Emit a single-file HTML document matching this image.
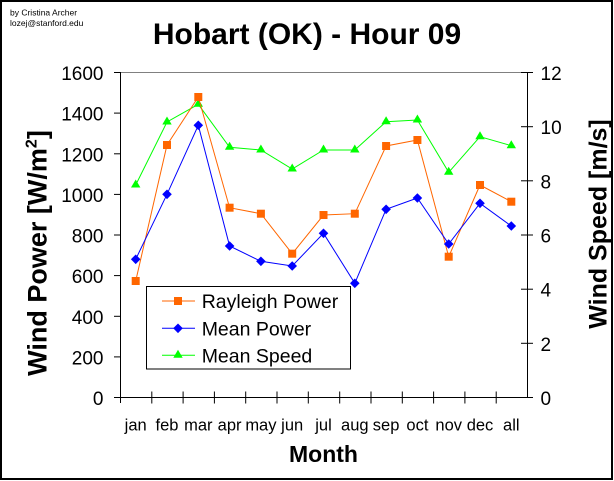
<!DOCTYPE html>
<html>
<head>
<meta charset="utf-8">
<style>
  html, body { margin: 0; padding: 0; background: #fff; }
  body { width: 614px; height: 481px; overflow: hidden; }
  svg { display: block; }
  text { font-family: "Liberation Sans", Arial, sans-serif; fill: #000; }
</style>
</head>
<body>
<svg width="614" height="481" viewBox="0 0 614 481" xmlns="http://www.w3.org/2000/svg">
  <rect x="0" y="0" width="614" height="481" fill="#fff"/>
  <!-- outer border -->
  <rect x="1" y="1" width="611" height="478" fill="none" stroke="#000" stroke-width="2"/>

  <!-- credits -->
  <text x="10" y="15.5" font-size="8.5">by Cristina Archer</text>
  <text x="10" y="26" font-size="8.5">lozej@stanford.edu</text>

  <!-- title -->
  <text x="307" y="44" font-size="30" font-weight="bold" text-anchor="middle">Hobart (OK) - Hour 09</text>

  <!-- plot top border (gray) -->
  <line x1="120" y1="72.5" x2="527" y2="72.5" stroke="#808080" stroke-width="1"/>

  <!-- left axis -->
  <line x1="120.5" y1="72" x2="120.5" y2="403" stroke="#000" stroke-width="1"/>
  <g stroke="#000" stroke-width="1">
    <line x1="114" y1="72.5" x2="120" y2="72.5"/>
    <line x1="114" y1="113.1" x2="120" y2="113.1"/>
    <line x1="114" y1="153.8" x2="120" y2="153.8"/>
    <line x1="114" y1="194.4" x2="120" y2="194.4"/>
    <line x1="114" y1="235" x2="120" y2="235"/>
    <line x1="114" y1="275.6" x2="120" y2="275.6"/>
    <line x1="114" y1="316.3" x2="120" y2="316.3"/>
    <line x1="114" y1="356.9" x2="120" y2="356.9"/>
    <line x1="114" y1="397.5" x2="120" y2="397.5"/>
  </g>
  <g font-size="19" text-anchor="end">
    <text x="103.5" y="80">1600</text>
    <text x="103.5" y="120.6">1400</text>
    <text x="103.5" y="161.3">1200</text>
    <text x="103.5" y="201.9">1000</text>
    <text x="103.5" y="242.5">800</text>
    <text x="103.5" y="283.1">600</text>
    <text x="103.5" y="323.8">400</text>
    <text x="103.5" y="364.4">200</text>
    <text x="103.5" y="405">0</text>
  </g>

  <!-- bottom axis -->
  <line x1="120" y1="397.5" x2="527" y2="397.5" stroke="#000" stroke-width="1"/>
  <g stroke="#000" stroke-width="1">
    <line x1="151.8" y1="391.5" x2="151.8" y2="403.5"/>
    <line x1="183.1" y1="391.5" x2="183.1" y2="403.5"/>
    <line x1="214.4" y1="391.5" x2="214.4" y2="403.5"/>
    <line x1="245.7" y1="391.5" x2="245.7" y2="403.5"/>
    <line x1="277" y1="391.5" x2="277" y2="403.5"/>
    <line x1="308.3" y1="391.5" x2="308.3" y2="403.5"/>
    <line x1="339.7" y1="391.5" x2="339.7" y2="403.5"/>
    <line x1="371" y1="391.5" x2="371" y2="403.5"/>
    <line x1="402.3" y1="391.5" x2="402.3" y2="403.5"/>
    <line x1="433.6" y1="391.5" x2="433.6" y2="403.5"/>
    <line x1="464.9" y1="391.5" x2="464.9" y2="403.5"/>
    <line x1="496.2" y1="391.5" x2="496.2" y2="403.5"/>
  </g>
  <g font-size="16.5" text-anchor="middle">
    <text x="135.7" y="430.5">jan</text>
    <text x="167" y="430.5">feb</text>
    <text x="198.3" y="430.5">mar</text>
    <text x="229.6" y="430.5">apr</text>
    <text x="260.9" y="430.5">may</text>
    <text x="292.2" y="430.5">jun</text>
    <text x="323.5" y="430.5">jul</text>
    <text x="354.8" y="430.5">aug</text>
    <text x="386.1" y="430.5">sep</text>
    <text x="417.4" y="430.5">oct</text>
    <text x="448.7" y="430.5">nov</text>
    <text x="480" y="430.5">dec</text>
    <text x="511.3" y="430.5">all</text>
  </g>
  <text x="323.5" y="462" font-size="23" font-weight="bold" text-anchor="middle">Month</text>

  <!-- right axis -->
  <line x1="527.5" y1="72" x2="527.5" y2="398" stroke="#000" stroke-width="1"/>
  <g stroke="#000" stroke-width="1">
    <line x1="521" y1="72.5" x2="533" y2="72.5"/>
    <line x1="521" y1="126.7" x2="533" y2="126.7"/>
    <line x1="521" y1="180.8" x2="533" y2="180.8"/>
    <line x1="521" y1="235" x2="533" y2="235"/>
    <line x1="521" y1="289.2" x2="533" y2="289.2"/>
    <line x1="521" y1="343.3" x2="533" y2="343.3"/>
    <line x1="521" y1="397.5" x2="533" y2="397.5"/>
  </g>
  <g font-size="19" text-anchor="start">
    <text x="540.5" y="80">12</text>
    <text x="540.5" y="134.2">10</text>
    <text x="540.5" y="188.3">8</text>
    <text x="540.5" y="242.5">6</text>
    <text x="540.5" y="296.7">4</text>
    <text x="540.5" y="350.8">2</text>
    <text x="540.5" y="405">0</text>
  </g>

  <!-- axis titles -->
  <text transform="translate(46.5,253) rotate(-90)" font-size="27" font-weight="bold" text-anchor="middle">Wind Power [W/m<tspan font-size="16" dy="-10">2</tspan><tspan dy="10">]</tspan></text>
  <text transform="translate(606.5,224) rotate(-90)" font-size="25" font-weight="bold" text-anchor="middle">Wind Speed [m/s]</text>

  <!-- Mean Speed (green) -->
  <polyline fill="none" stroke="#00FF00" stroke-width="1"
    points="135.7,185 167,122 198.3,104.3 229.6,147.3 260.9,150 292.2,169 323.5,150 354.8,150 386.1,121.7 417.4,120 448.7,172.3 480,136.7 511.3,145.7"/>
  <g fill="#00FF00">
    <polygon points="135.7,179.5 131,187.5 140.4,187.5"/>
    <polygon points="167,116.5 162.3,124.5 171.7,124.5"/>
    <polygon points="198.3,98.8 193.6,106.8 203,106.8"/>
    <polygon points="229.6,141.8 224.9,149.8 234.3,149.8"/>
    <polygon points="260.9,144.5 256.2,152.5 265.6,152.5"/>
    <polygon points="292.2,163.5 287.5,171.5 296.9,171.5"/>
    <polygon points="323.5,144.5 318.8,152.5 328.2,152.5"/>
    <polygon points="354.8,144.5 350.1,152.5 359.5,152.5"/>
    <polygon points="386.1,116.2 381.4,124.2 390.8,124.2"/>
    <polygon points="417.4,114.5 412.7,122.5 422.1,122.5"/>
    <polygon points="448.7,166.8 444,174.8 453.4,174.8"/>
    <polygon points="480,131.2 475.3,139.2 484.7,139.2"/>
    <polygon points="511.3,140.2 506.6,148.2 516,148.2"/>
  </g>

  <!-- Rayleigh Power (orange) -->
  <polyline fill="none" stroke="#FF6600" stroke-width="1"
    points="135.7,281 167,145 198.3,97 229.6,207.7 260.9,213.7 292.2,253.7 323.5,215 354.8,213.7 386.1,146 417.4,140 448.7,256.7 480,185 511.3,201.7"/>
  <g fill="#FF6600">
    <rect x="131.7" y="277" width="8" height="8"/>
    <rect x="163" y="141" width="8" height="8"/>
    <rect x="194.3" y="93" width="8" height="8"/>
    <rect x="225.6" y="203.7" width="8" height="8"/>
    <rect x="256.9" y="209.7" width="8" height="8"/>
    <rect x="288.2" y="249.7" width="8" height="8"/>
    <rect x="319.5" y="211" width="8" height="8"/>
    <rect x="350.8" y="209.7" width="8" height="8"/>
    <rect x="382.1" y="142" width="8" height="8"/>
    <rect x="413.4" y="136" width="8" height="8"/>
    <rect x="444.7" y="252.7" width="8" height="8"/>
    <rect x="476" y="181" width="8" height="8"/>
    <rect x="507.3" y="197.7" width="8" height="8"/>
  </g>

  <!-- Mean Power (blue) -->
  <polyline fill="none" stroke="#0000FF" stroke-width="1"
    points="135.7,259.3 167,194.3 198.3,125.3 229.6,246 260.9,261.3 292.2,266 323.5,233.3 354.8,283.3 386.1,209.3 417.4,198 448.7,244 480,203.3 511.3,226"/>
  <g fill="#0000FF">
    <polygon points="135.7,254.5 140.5,259.3 135.7,264.1 130.9,259.3"/>
    <polygon points="167,189.5 171.8,194.3 167,199.1 162.2,194.3"/>
    <polygon points="198.3,120.5 203.1,125.3 198.3,130.1 193.5,125.3"/>
    <polygon points="229.6,241.2 234.4,246 229.6,250.8 224.8,246"/>
    <polygon points="260.9,256.5 265.7,261.3 260.9,266.1 256.1,261.3"/>
    <polygon points="292.2,261.2 297,266 292.2,270.8 287.4,266"/>
    <polygon points="323.5,228.5 328.3,233.3 323.5,238.1 318.7,233.3"/>
    <polygon points="354.8,278.5 359.6,283.3 354.8,288.1 350,283.3"/>
    <polygon points="386.1,204.5 390.9,209.3 386.1,214.1 381.3,209.3"/>
    <polygon points="417.4,193.2 422.2,198 417.4,202.8 412.6,198"/>
    <polygon points="448.7,239.2 453.5,244 448.7,248.8 443.9,244"/>
    <polygon points="480,198.5 484.8,203.3 480,208.1 475.2,203.3"/>
    <polygon points="511.3,221.2 516.1,226 511.3,230.8 506.5,226"/>
  </g>

  <!-- legend -->
  <rect x="146.5" y="286.5" width="204" height="82.5" fill="#fff" stroke="#000" stroke-width="1"/>
  <line x1="162" y1="301" x2="195" y2="301" stroke="#FF6600" stroke-width="1"/>
  <rect x="174" y="297" width="8" height="8" fill="#FF6600"/>
  <line x1="162" y1="328.3" x2="195" y2="328.3" stroke="#0000FF" stroke-width="1"/>
  <polygon points="178,323.5 182.8,328.3 178,333.1 173.2,328.3" fill="#0000FF"/>
  <line x1="162" y1="355.3" x2="195" y2="355.3" stroke="#00FF00" stroke-width="1"/>
  <polygon points="178,349.8 173.3,357.8 182.7,357.8" fill="#00FF00"/>
  <g font-size="19.5">
    <text x="201.7" y="308">Rayleigh Power</text>
    <text x="201.7" y="335.3">Mean Power</text>
    <text x="201.7" y="362.3">Mean Speed</text>
  </g>
</svg>
</body>
</html>
